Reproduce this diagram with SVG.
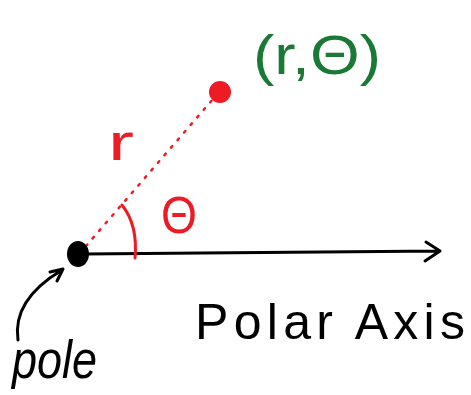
<svg xmlns="http://www.w3.org/2000/svg" width="471" height="395" viewBox="0 0 471 395">
<style>
.red{fill:#ed1c24}
.green{fill:#1a7a35}
.lbl{font-family:"Liberation Sans",Arial,sans-serif}
.ink{stroke:#000;stroke-width:3;fill:none;stroke-linecap:round;stroke-linejoin:round}
</style>
<rect width="471" height="395" fill="#fff"/>
<g id="connectors">
<path class="ink" d="M84 254 L440 251 M426 242 L440 251 L425 261"/>
<path d="M86 246 L213 99" stroke="#ed1c24" stroke-width="2.5" stroke-dasharray="2 8" fill="none" stroke-linecap="round"/>
<path d="M122 205 Q138 225 135 258" stroke="#ed1c24" stroke-width="3" fill="none" stroke-linecap="round"/>
<path class="ink" d="M18 340 Q12 300 62 270 M50 272 L63 269 L57 281" stroke-width="2.5"/>
</g>
<g id="point">
<circle cx="220" cy="92" r="11" class="red"/>
<text class="lbl green" x="253" y="74" font-size="56" textLength="128" lengthAdjust="spacingAndGlyphs">(r,Θ)</text>
</g>
<g id="pole">
<ellipse cx="78" cy="254" rx="11" ry="13" fill="#000"/>
<text class="lbl" x="12" y="378" font-size="54" font-style="italic" textLength="85" lengthAdjust="spacingAndGlyphs">pole</text>
</g>
<g id="labels">
<text class="lbl red" x="108" y="160" font-size="52" textLength="26" lengthAdjust="spacingAndGlyphs">r</text>
<text class="lbl red" x="161" y="233" font-size="52" textLength="36" lengthAdjust="spacingAndGlyphs">Θ</text>
<text class="lbl" x="195" y="339" font-size="50" textLength="270" lengthAdjust="spacing">Polar Axis</text>
</g>
</svg>
